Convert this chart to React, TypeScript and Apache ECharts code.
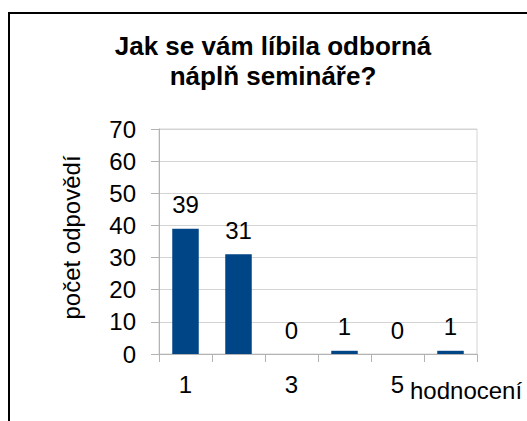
import React, { useEffect, useRef } from "react";
import * as echarts from "echarts";

const titleLines = ["Jak se vám líbila odborná", "náplň semináře?"];
const categories = ["1", "2", "3", "4", "5", "6"];
const values = [39, 31, 0, 1, 0, 1];
const yName = "počet odpovědí";
const xName = "hodnocení";
const yMin = 0;
const yMax = 70;
const yStep = 10;

const FONT = "'Liberation Sans', Arial, sans-serif";

export default function App() {
  const ref = useRef<HTMLDivElement>(null);
  useEffect(() => {
    if (!ref.current) return;
    const chart = echarts.init(ref.current, undefined, { renderer: "svg" });
    chart.setOption({
      animation: false,
      backgroundColor: "#ffffff",
      textStyle: { fontFamily: FONT },
      title: {
        text: titleLines.join("\n"),
        left: 273,
        top: 31,
        textAlign: "center",
        padding: 0,
        textStyle: {
          fontFamily: FONT,
          fontSize: 26,
          fontWeight: "bold",
          color: "#000",
          lineHeight: 30,
        },
      },
      grid: {
        left: 159,
        right: 50,
        top: 129,
        bottom: 67,
        show: true,
        borderColor: "#d4d4d4",
        borderWidth: 1,
        containLabel: false,
      },
      xAxis: {
        type: "category",
        data: categories,
        axisLine: { show: true, lineStyle: { color: "#b3b3b3", width: 1 } },
        axisTick: {
          show: true,
          length: 8,
          interval: 0,
          alignWithLabel: false,
          lineStyle: { color: "#b3b3b3" },
        },
        axisLabel: {
          interval: 1,
          margin: 18,
          fontSize: 24,
          fontFamily: FONT,
          color: "#000",
        },
        splitLine: { show: false },
      },
      yAxis: {
        type: "value",
        min: yMin,
        max: yMax,
        interval: yStep,
        name: yName,
        nameLocation: "middle",
        nameGap: 76,
        nameTextStyle: {
          fontSize: 24,
          fontFamily: FONT,
          color: "#000",
          padding: [0, 0, 0, 8],
        },
        axisLine: { show: true, lineStyle: { color: "#b3b3b3", width: 1 } },
        axisTick: { show: true, length: 8, lineStyle: { color: "#b3b3b3" } },
        axisLabel: {
          margin: 23,
          fontSize: 24,
          fontFamily: FONT,
          color: "#000",
        },
        splitLine: { show: true, lineStyle: { color: "#d4d4d4", width: 1 } },
      },
      series: [
        {
          type: "bar",
          data: values,
          barWidth: "50%",
          itemStyle: { color: "#004586" },
          label: {
            show: true,
            position: "top",
            distance: 12,
            fontSize: 24,
            fontFamily: FONT,
            color: "#000",
          },
        },
      ],
      graphic: [
        {
          type: "rect",
          shape: { x: 9, y: 13, width: 600, height: 500 },
          style: { fill: "none", stroke: "#000", lineWidth: 2 },
          silent: true,
        },
        {
          type: "text",
          x: 410,
          y: 390,
          style: {
            text: xName,
            fontSize: 24,
            fontFamily: FONT,
            fill: "#000",
            textAlign: "left",
            textVerticalAlign: "middle",
          },
        },
      ],
    });
    return () => chart.dispose();
  }, []);
  return (
    <div
      ref={ref}
      style={{ position: "fixed", left: 0, top: 0, width: 527, height: 421 }}
    />
  );
}
